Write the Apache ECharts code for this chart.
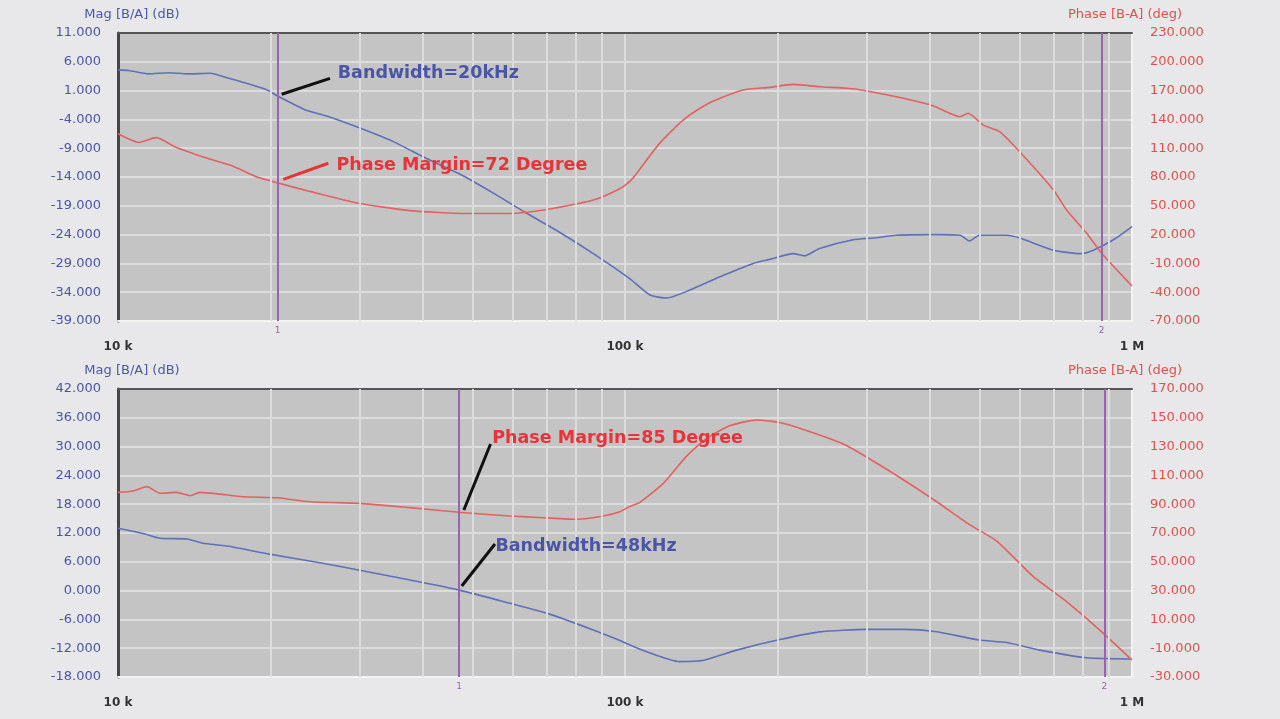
<!DOCTYPE html>
<html>
<head>
<meta charset="utf-8">
<script src="https://cdn.jsdelivr.net/npm/echarts@6/dist/echarts.min.js"></script>
<style>
html,body{margin:0;padding:0;background:#e8e8ea;}
#chart{width:1280px;height:719px;}
</style>
</head>
<body>
<div id="chart"></div>
<script>
// ---------- DATA ----------
// Top plot (frequency Hz, value)
const magTop = [[10000,4.6],[10500,4.5],[11500,3.9],[12600,4.1],[13700,3.9],[15200,4.0],[16600,3.1],[18200,2.1],[19700,1.1],[20600,0.1],[23500,-2.4],[25800,-3.4],[30000,-5.5],[35000,-7.9],[40600,-10.8],[47000,-13.4],[55000,-16.8],[64000,-20.3],[74000,-23.5],[86600,-27.3],[102000,-31.6],[112000,-34.5],[121000,-35.0],[132000,-33.9],[154000,-31.3],[179000,-29.0],[193000,-28.3],[215000,-27.3],[226000,-27.7],[242000,-26.4],[282000,-24.9],[309000,-24.6],[343000,-24.1],[412000,-24.0],[458000,-24.1],[478000,-25.1],[500000,-24.1],[566000,-24.1],[601000,-24.6],[700000,-26.7],[790000,-27.3],[839000,-26.7],[919000,-24.9],[1000000,-22.6]];
const phaseTop = [[10000,125],[11000,116],[11900,121],[13000,111],[15000,99.5],[16900,91],[18800,80],[20600,74],[23900,65],[29600,53],[37700,45],[48700,42],[59300,42],[69000,45.6],[86600,56],[97000,67],[102000,75],[105500,84],[117000,115],[130000,139],[143000,154],[154000,162],[171000,170.6],[193000,173.4],[215000,176.5],[242000,174],[274000,172.4],[300000,169.6],[354000,162],[406000,154],[458000,142.8],[475000,146.4],[509000,134],[549000,127],[601000,106],[700000,66.5],[743000,45.6],[814000,21.4],[871000,0.5],[947000,-20.3],[1000000,-33.5]];
// Bottom plot
const magBot = [[10000,13.0],[11200,11.9],[12100,10.9],[13700,10.75],[14700,9.85],[16400,9.3],[19900,7.6],[24700,5.9],[30500,4.1],[37700,2.2],[47100,0.1],[59300,-2.65],[71000,-4.9],[86600,-8.2],[97700,-10.4],[102000,-11.3],[110000,-12.7],[128000,-14.8],[143000,-14.5],[166000,-12.4],[202000,-10.2],[242000,-8.6],[300000,-8.07],[354000,-8.07],[412000,-8.56],[500000,-10.3],[566000,-10.8],[658000,-12.4],[814000,-14.0],[1000000,-14.25]];
const phaseBot = [[10000,98.2],[10700,99.2],[11400,102.2],[12100,97.6],[13050,98.2],[13900,95.9],[14500,98.2],[17700,95.2],[20600,94.5],[23900,91.7],[30000,90.6],[37700,87.6],[47100,84.4],[59300,81.8],[69000,80.6],[80300,79.5],[90600,81.8],[97700,84.8],[102000,88.3],[107000,91.3],[119000,104.5],[132000,123],[145000,135.8],[161000,144.5],[182000,148.5],[205000,146.2],[242000,138],[274000,130.6],[318000,117.2],[359000,105.6],[412000,91.7],[479000,75.6],[541000,64.4],[639000,39.7],[743000,22.3],[878000,0.35],[1000000,-18.2]];

// Axis ranges / ticks
const xRange = [10000, 1000000];
const xTickLabels = {10000:'10 k', 100000:'100 k', 1000000:'1 M'};
const minorFreqs = [20000,30000,40000,50000,60000,70000,80000,90000,200000,300000,400000,500000,600000,700000,800000,900000];
const magTopAxis = {min:-39, max:11, interval:5};
const phaseTopAxis = {min:-70, max:230, interval:30};
const magBotAxis = {min:-18, max:42, interval:6};
const phaseBotAxis = {min:-30, max:170, interval:20};

// Cursors
const cursorsTop = [20650, 871000];
const cursorsBot = [47100, 882000];

// Annotations: leader start, leader end, text anchor, text
const annTopBW = {from:[21030,0.36], to:[26190,3.13], at:[27070,4.06], text:'Bandwidth=20kHz'};
const annTopPM = {from:[21180,77.6], to:[25990,94.3], at:[26920,92.5], text:'Phase Margin=72 Degree'};
const annBotPM = {from:[48100,86], to:[54300,131.8], at:[54600,136], text:'Phase Margin=85 Degree'};
const annBotBW = {from:[47640,0.96], to:[55400,9.7], at:[55400,9.23], text:'Bandwidth=48kHz'};

// ---------- STYLE ----------
const FONT = 'DejaVu Sans';
const BLUE_LINE = '#6070b8';
const RED_LINE = '#e26262';
const BLUE_TXT = '#4a57a8';
const RED_TXT = '#e2504c';
const ANN_BLUE = '#4a55a6';
const ANN_RED = '#e8333a';
const CURSOR = '#9a62b4';
const GRIDLINE = '#dcdcdc';

const chart = echarts.init(document.getElementById('chart'));

function xAxes(gi){
  return [{
    gridIndex:gi, type:'log', logBase:10, min:xRange[0], max:xRange[1], position:'bottom',
    axisLine:{show:true, onZero:false, lineStyle:{color:'#f3f3f3', width:2}},
    axisTick:{show:false},
    axisLabel:{margin:20, color:'#333', fontSize:12, fontWeight:'bold', fontFamily:FONT,
      formatter:v=>xTickLabels[Math.round(v)] || ''},
    splitLine:{show:true, lineStyle:{color:GRIDLINE, width:2}}
  },{
    gridIndex:gi, type:'log', logBase:10, min:xRange[0], max:xRange[1], position:'top',
    axisLine:{show:true, onZero:false, lineStyle:{color:'#555', width:2}},
    axisTick:{show:false}, axisLabel:{show:false}, splitLine:{show:false}
  }];
}
function yAxes(gi, magAx, phAx){
  return [{
    gridIndex:gi, type:'value', position:'left', min:magAx.min, max:magAx.max, interval:magAx.interval,
    name:'Mag [B/A] (dB)', nameLocation:'end', nameGap:12,
    nameTextStyle:{color:BLUE_TXT, fontSize:13, fontFamily:FONT, align:'center', padding:[0,0,0,28]},
    axisLine:{show:true, onZero:false, lineStyle:{color:'#454545', width:3}},
    axisTick:{show:false},
    axisLabel:{color:BLUE_TXT, fontSize:13, fontFamily:FONT, margin:17, formatter:v=>v.toFixed(3)},
    splitLine:{show:true, lineStyle:{color:GRIDLINE, width:2}}
  },{
    gridIndex:gi, type:'value', position:'right', min:phAx.min, max:phAx.max, interval:phAx.interval,
    name:'Phase [B-A] (deg)', nameLocation:'end', nameGap:12,
    nameTextStyle:{color:RED_TXT, fontSize:13, fontFamily:FONT, align:'center', padding:[0,14,0,0]},
    axisLine:{show:true, onZero:false, lineStyle:{color:'#f3f3f3', width:2}},
    axisTick:{show:false},
    axisLabel:{color:RED_TXT, fontSize:13, fontFamily:FONT, margin:18, formatter:v=>v.toFixed(3)},
    splitLine:{show:false}
  }];
}
function leaderLines(list){
  return list.map(([a,color])=>[{coord:a.from, lineStyle:{color:color, width:3, type:'solid'}}, {coord:a.to}]);
}
function textPoints(list){
  return list.map(([a,color,txtColor])=>({
    coord:a.at, symbol:'circle', symbolSize:1, itemStyle:{color:'rgba(0,0,0,0)'},
    label:{show:true, position:'right', distance:0, formatter:a.text, color:txtColor,
      fontSize:17.5, fontWeight:'bold', fontFamily:FONT}
  }));
}
function gridSeries(xi, yi){
  return {
    type:'line', xAxisIndex:xi, yAxisIndex:yi, data:[], z:1, silent:true,
    markLine:{silent:true, symbol:['none','none'], animation:false, label:{show:false},
      lineStyle:{color:GRIDLINE, width:2, type:'solid'},
      data:minorFreqs.map(f=>({xAxis:f}))}
  };
}
function cursorSeries(xi, yi, cursors){
  return {
    type:'line', xAxisIndex:xi, yAxisIndex:yi, data:[], z:4, silent:true,
    markLine:{silent:true, symbol:['none','none'], animation:false,
      lineStyle:{color:CURSOR, width:2, type:'solid'},
      label:{show:true, position:'start', distance:5, color:CURSOR, fontSize:9, fontFamily:FONT,
        formatter:p=>String(p.dataIndex+1)},
      data:cursors.map(f=>({xAxis:f}))}
  };
}
function curve(xi, yi, data, color, marks){
  const s = {type:'line', xAxisIndex:xi, yAxisIndex:yi, data:data, showSymbol:false, symbol:'none',
    smooth:0.2, lineStyle:{color:color, width:1.6}, itemStyle:{color:color}, z:3, silent:true, animation:false};
  if (marks){
    s.markLine = {silent:true, symbol:['none','none'], animation:false, label:{show:false},
      data:leaderLines(marks)};
    s.markPoint = {silent:true, animation:false, data:textPoints(marks)};
  }
  return s;
}

const option = {
  backgroundColor:'#e8e8ea',
  animation:false,
  grid:[
    {left:118, top:33, width:1014, height:288, show:true, backgroundColor:'#c4c4c4', borderWidth:0},
    {left:118, top:389, width:1014, height:288, show:true, backgroundColor:'#c4c4c4', borderWidth:0}
  ],
  xAxis:[...xAxes(0), ...xAxes(1)],
  yAxis:[...yAxes(0, magTopAxis, phaseTopAxis), ...yAxes(1, magBotAxis, phaseBotAxis)],
  series:[
    gridSeries(0,0),
    gridSeries(2,2),
    curve(0,0,magTop,BLUE_LINE,[[annTopBW,'#111',ANN_BLUE]]),
    curve(0,1,phaseTop,RED_LINE,[[annTopPM,ANN_RED,ANN_RED]]),
    curve(2,2,magBot,BLUE_LINE,[[annBotBW,'#111',ANN_BLUE]]),
    curve(2,3,phaseBot,RED_LINE,[[annBotPM,'#111',ANN_RED]]),
    cursorSeries(0,0,cursorsTop),
    cursorSeries(2,2,cursorsBot)
  ]
};
chart.setOption(option);
</script>
</body>
</html>
